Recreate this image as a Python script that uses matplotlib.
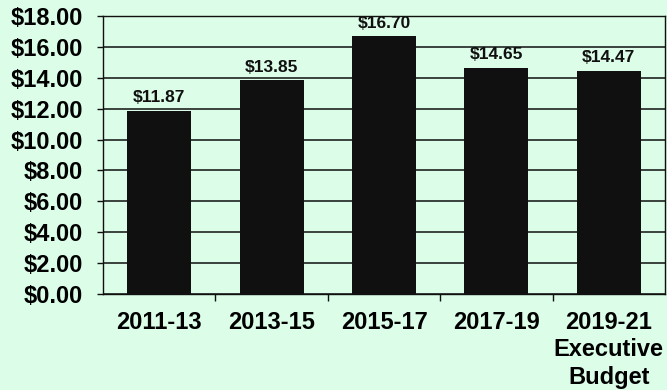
"""Biennial per-unit cost bar chart with dollar labels."""

import matplotlib.pyplot as plt
from matplotlib.ticker import FixedLocator, FuncFormatter

BG = "#dcfde8"
INK = "#101010"

periods = ["2011-13", "2013-15", "2015-17", "2017-19", "2019-21\nExecutive\nBudget"]
costs = [11.87, 13.85, 16.70, 14.65, 14.47]
y_ticks = [0, 2, 4, 6, 8, 10, 12, 14, 16, 18]

plt.rcParams["font.family"] = ["Liberation Sans", "DejaVu Sans"]
plt.rcParams["font.weight"] = "bold"

fig = plt.figure(figsize=(6.67, 3.90), dpi=100, facecolor=BG)
ax = fig.add_axes([103 / 667, 1 - 294 / 390, 562 / 667, 278 / 390], facecolor=BG)

x = list(range(len(periods)))
ax.bar(x, costs, width=0.57, color=INK, zorder=3)
for xi, value in zip(x, costs):
    ax.text(xi, value + 0.35, f"${value:.2f}", ha="center", va="bottom",
            fontsize=12.5, fontweight="bold", color=INK, zorder=4)

ax.set_xlim(-0.5, len(periods) - 0.5)
ax.set_ylim(0, 18)
ax.yaxis.set_major_locator(FixedLocator(y_ticks))
ax.yaxis.set_major_formatter(FuncFormatter(lambda v, _: f"${v:.2f}"))
ax.grid(axis="y", color=INK, linewidth=1.1, zorder=1)

ax.set_xticks(x)
ax.set_xticklabels(periods, fontsize=17, fontweight="bold", linespacing=1.25)
ax.xaxis.set_minor_locator(FixedLocator([i + 0.5 for i in range(len(periods) - 1)]))
ax.tick_params(axis="x", which="major", length=0, pad=12)
ax.tick_params(axis="x", which="minor", length=5, width=1, color=INK, direction="out")
ax.tick_params(axis="y", length=4.5, width=1, color=INK, labelsize=17, pad=10)
for label in ax.get_yticklabels():
    label.set_fontweight("bold")

for side in ("top", "right", "left", "bottom"):
    ax.spines[side].set_color(INK)
    ax.spines[side].set_linewidth(1.0)

fig.savefig("out.png", dpi=100, facecolor=BG)
